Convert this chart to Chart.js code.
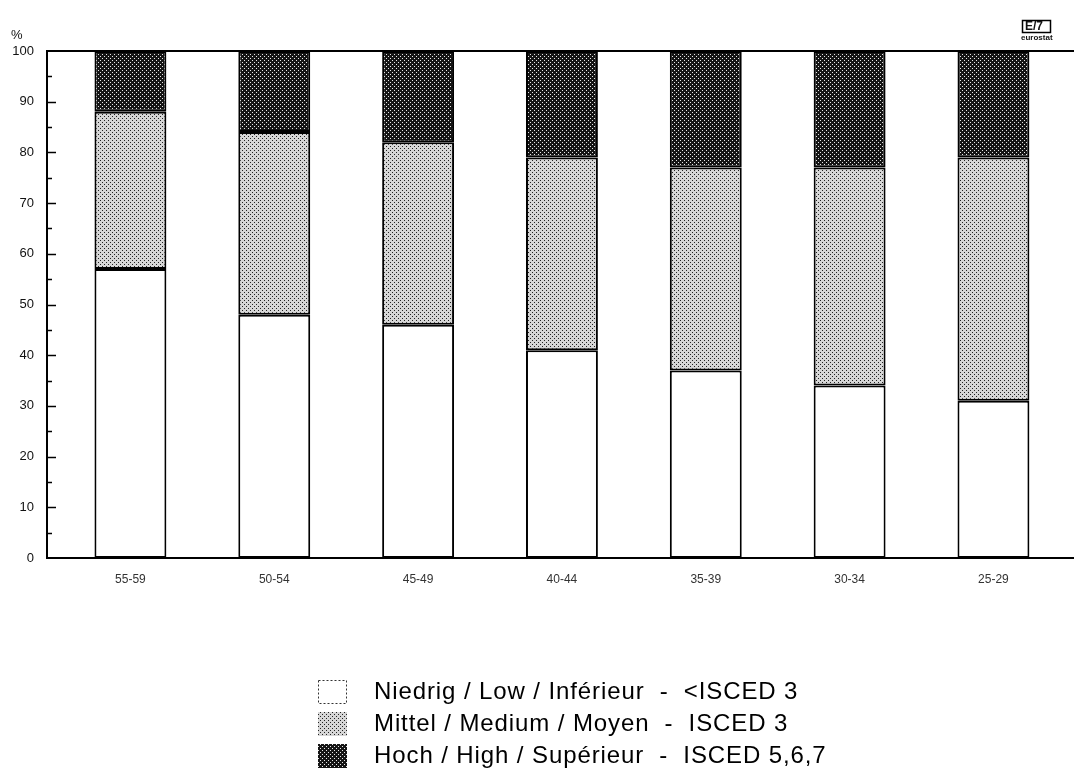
<!DOCTYPE html>
<html>
<head>
<meta charset="utf-8">
<script src="https://cdn.jsdelivr.net/npm/chart.js@4.4.0/dist/chart.umd.min.js"></script>
<style>
  html, body { margin: 0; padding: 0; background: #fff; }
</style>
</head>
<body>
<canvas id="chart" width="1074" height="776"></canvas>
<script>
// age groups, left to right
const ageGroups = ['55-59', '50-54', '45-49', '40-44', '35-39', '30-34', '25-29'];

// share of each education level, %
const lowShare = [57, 48, 46, 41, 37, 34, 31];
const mediumShare = [31, 36, 36, 38, 40, 43, 48];
const highShare = [12, 16, 18, 21, 23, 23, 21];

const seriesNames = [
    'Niedrig / Low / Inférieur  -  <ISCED 3',
    'Mittel / Medium / Moyen  -  ISCED 3',
    'Hoch / High / Supérieur  -  ISCED 5,6,7'
];

const canvas = document.getElementById('chart');
const ctx = canvas.getContext('2d');

// small dotted tiles, like the screen tones of the print
function dotPattern(bg, dot) {
    const tile = document.createElement('canvas');
    tile.width = 4;
    tile.height = 4;
    const t = tile.getContext('2d');
    t.fillStyle = bg;
    t.fillRect(0, 0, 4, 4);
    t.fillStyle = dot;
    t.fillRect(0, 0, 1, 1);
    t.fillRect(2, 2, 1, 1);
    return ctx.createPattern(tile, 'repeat');
}

const mediumFill = dotPattern('#d6d6d6', '#222');
const highFill = dotPattern('#151515', '#e8e8e8');

const framePlugin = {
    id: 'frame',
    afterDraw(chart) {
        const c = chart.ctx;
        const area = chart.chartArea;
        const y = chart.scales.y;
        c.save();
        c.strokeStyle = '#000';

        // top line of the frame at 100
        c.lineWidth = 2;
        c.beginPath();
        c.moveTo(area.left, y.getPixelForValue(100));
        c.lineTo(area.right, y.getPixelForValue(100));
        c.stroke();

        // inward ticks on the value axis
        c.lineWidth = 1.5;
        for (let v = 5; v < 100; v += 5) {
            const py = Math.round(y.getPixelForValue(v)) + 0.5;
            const len = v % 10 === 0 ? 9 : 5;
            c.beginPath();
            c.moveTo(area.left, py);
            c.lineTo(area.left + len, py);
            c.stroke();
        }

        // unit
        c.fillStyle = '#111';
        c.font = '13px "Liberation Sans", Arial, sans-serif';
        c.textAlign = 'left';
        c.textBaseline = 'middle';
        c.fillText('%', 11, 35);

        // eurostat mark
        c.lineWidth = 1.5;
        c.strokeRect(1022.5, 20.5, 28, 12);
        c.font = 'bold 12px "Liberation Sans", Arial, sans-serif';
        c.fillText('E/7', 1025, 27);
        c.font = 'bold 8px "Liberation Sans", Arial, sans-serif';
        c.fillText('eurostat', 1021, 38);

        // legend
        const fills = chart.data.datasets.map(d => d.backgroundColor);
        const rowY = [692, 724, 756];
        c.font = '24px "Liberation Sans", Arial, sans-serif';
        c.letterSpacing = '0.9px';
        chart.data.datasets.forEach((d, i) => {
            const bx = 318, by = rowY[i] - 12, bw = 29, bh = 24;
            c.fillStyle = fills[i];
            c.fillRect(bx, by, bw, bh);
            if (i === 0) {
                c.setLineDash([2, 2]);
                c.lineWidth = 1;
                c.strokeStyle = '#333';
                c.strokeRect(bx + 0.5, by + 0.5, bw - 1, bh - 1);
                c.setLineDash([]);
            }
            c.fillStyle = '#000';
            c.fillText(d.label, 374, rowY[i]);
        });
        c.restore();
    }
};

new Chart(ctx, {
    type: 'bar',
    data: {
        labels: ageGroups.map((_, i) => i),
        datasets: [
            { label: seriesNames[0], data: lowShare, backgroundColor: '#fff' },
            { label: seriesNames[1], data: mediumShare, backgroundColor: mediumFill },
            { label: seriesNames[2], data: highShare, backgroundColor: highFill }
        ]
    },
    options: {
        responsive: false,
        animation: false,
        layout: { padding: { top: 51, left: 0, right: 0, bottom: 0 } },
        datasets: {
            bar: {
                borderColor: '#000',
                borderWidth: 2,
                borderSkipped: false,
                barPercentage: 0.5,
                categoryPercentage: 1
            }
        },
        plugins: {
            legend: { display: false },
            tooltip: { enabled: false }
        },
        scales: {
            x: {
                type: 'linear',
                stacked: true,
                offset: false,
                min: -0.58,
                max: 6.56,
                grid: { display: false, drawTicks: false, offset: false },
                border: { display: true, color: '#000', width: 2 },
                ticks: {
                    stepSize: 1,
                    includeBounds: false,
                    autoSkip: false,
                    maxRotation: 0,
                    padding: 14,
                    color: '#333',
                    font: { family: '"Liberation Sans", Arial, sans-serif', size: 12 },
                    callback: v => (Number.isInteger(v) && ageGroups[v]) ? ageGroups[v] : ''
                },
                afterFit: s => { s.height = 218; }
            },
            y: {
                stacked: true,
                min: 0,
                max: 100,
                grid: { display: false, drawTicks: false },
                border: { display: true, color: '#000', width: 2 },
                ticks: {
                    stepSize: 10,
                    padding: 13,
                    color: '#111',
                    font: { family: '"Liberation Sans", Arial, sans-serif', size: 13 }
                },
                afterFit: s => { s.width = 47; }
            }
        }
    },
    plugins: [framePlugin]
});
</script>
</body>
</html>
